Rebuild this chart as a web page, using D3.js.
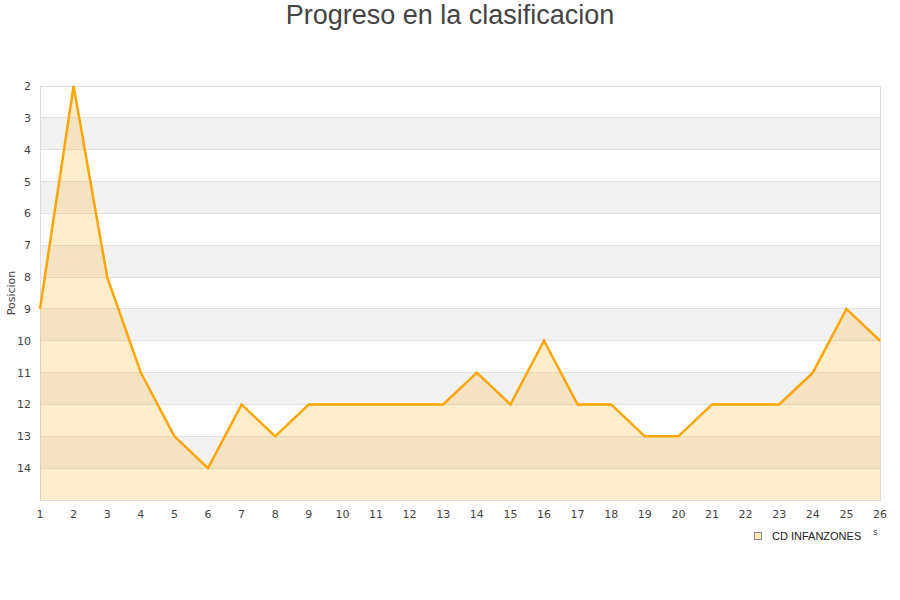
<!DOCTYPE html>
<html><head><meta charset="utf-8">
<script src="https://cdn.jsdelivr.net/npm/d3@7"></script>
<style>body{margin:0;background:#fff;font-family:"DejaVu Sans",sans-serif}</style>
</head><body><svg id="c" width="900" height="600"></svg>
<script>
const jornadas = [1,2,3,4,5,6,7,8,9,10,11,12,13,14,15,16,17,18,19,20,21,22,23,24,25,26];
const posiciones = [9,2,8,11,13,14,12,13,12,12,12,12,12,11,12,10,12,12,13,13,12,12,12,11,9,10];
const yTicks = [2,3,4,5,6,7,8,9,10,11,12,13,14];
const seriesName = "CD INFANZONES";
const title = "Progreso en la clasificacion";
const yLabel = "Posicion";

const svg = d3.select("#c");
const L=40,R=880,T=86,B=500;
const x = d3.scaleLinear().domain([1,26]).range([L,R]);
const y = d3.scaleLinear().domain([2,15]).range([T,B]);

// bands
const bands = d3.range(2,15);
svg.selectAll("rect.band").data(bands).enter().append("rect")
  .attr("x",L).attr("width",R-L)
  .attr("y",d=>y(d)).attr("height",d=>y(d+1)-y(d))
  .attr("fill",d=>d%2===1?"#f2f2f2":"#ffffff");
// grid
svg.selectAll("line.g").data(yTicks).enter().append("line")
  .attr("x1",L).attr("x2",R).attr("y1",d=>y(d)).attr("y2",d=>y(d))
  .attr("stroke","#e0e0e0").attr("stroke-width",1).attr("shape-rendering","crispEdges");
// frame
svg.append("rect").attr("x",L).attr("y",T).attr("width",R-L).attr("height",B-T)
  .attr("fill","none").attr("stroke","#dcdcdc").attr("shape-rendering","crispEdges");

const area = d3.area().x((d,i)=>x(jornadas[i])).y0(y(15)).y1(d=>y(d));
svg.append("path").datum(posiciones).attr("d",area).attr("fill","rgba(255,165,0,0.2)");
const line = d3.line().x((d,i)=>x(jornadas[i])).y(d=>y(d));
svg.append("path").datum(posiciones).attr("d",line).attr("fill","none")
  .attr("stroke","#ffa500").attr("stroke-width",2.5).attr("stroke-linejoin","miter");

// y axis labels
svg.selectAll("text.yt").data(yTicks).enter().append("text")
  .attr("x",31).attr("y",d=>y(d)+4).attr("text-anchor","end")
  .attr("font-size",11).attr("fill","#444").text(d=>d);
// x axis labels
svg.selectAll("text.xt").data(jornadas).enter().append("text")
  .attr("x",d=>x(d)).attr("y",518).attr("text-anchor","middle")
  .attr("font-size",11).attr("fill","#444").text(d=>d);

svg.append("text").attr("transform","translate(15,293) rotate(-90)")
  .attr("text-anchor","middle").attr("font-size",11).attr("fill","#444").text(yLabel);

svg.append("text").attr("x",450).attr("y",24).attr("text-anchor","middle")
  .attr("font-family","Liberation Sans, Arial, sans-serif")
  .attr("font-size",27).attr("fill","#444").text(title);

// legend
svg.append("rect").attr("x",754.5).attr("y",532.5).attr("width",7).attr("height",7)
  .attr("fill","#ffe9c2").attr("stroke","#888").attr("stroke-width",1);
svg.append("text").attr("x",772).attr("y",540).attr("font-size",11)
  .attr("font-family","Liberation Sans, Arial, sans-serif").attr("fill","#222").text(seriesName);
svg.append("text").attr("x",873).attr("y",535).attr("font-size",9).attr("fill","#444").text("s");
</script></body></html>
